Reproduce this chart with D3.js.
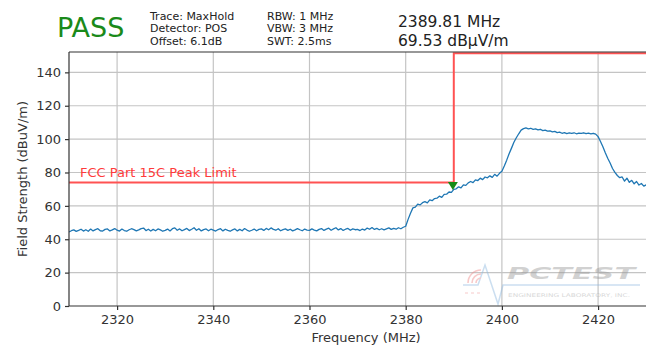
<!DOCTYPE html>
<html>
<head>
<meta charset="utf-8">
<script src="https://cdn.jsdelivr.net/npm/d3@7"></script>
<style>
  html, body { margin: 0; padding: 0; background: #fff; }
  svg { display: block; font-family: "DejaVu Sans", sans-serif; }
</style>
</head>
<body>
<svg id="chart" width="646" height="347"></svg>
<script>
// Sweep settings
const sweepStartMHz = 2310;
const sweepStepMHz = 0.5;

// MaxHold trace, dBuV/m, one value per 0.5 MHz from 2310 MHz
const traceValues = [
  // 2310 - 2319.5
  44.4, 45.1, 45.6, 44.7, 45.3, 46.0, 44.9, 45.7, 44.8, 46.1, 45.0, 45.8, 46.3, 45.1, 44.9, 45.9, 46.2, 45.0, 45.6, 46.4,
  // 2320 - 2329.5
  45.4, 44.9, 46.1, 45.2, 44.8, 45.7, 46.3, 45.8, 45.0, 45.6, 46.4, 46.7, 45.2, 46.0, 44.9, 45.9, 45.1, 46.2, 45.6, 44.8,
  // 2330 - 2339.5
  45.3, 46.1, 45.0, 46.3, 46.8, 45.4, 46.2, 45.1, 45.8, 46.5, 45.2, 46.0, 46.9, 45.4, 46.3, 45.0, 45.8, 46.2, 45.1, 46.0,
  // 2340 - 2349.5
  45.5, 44.9, 45.8, 46.3, 45.0, 46.0, 45.3, 44.8, 45.6, 46.2, 45.0, 45.9, 45.1, 46.4, 45.5, 44.8, 45.4, 46.1, 45.1, 45.9,
  // 2350 - 2359.5
  46.2, 45.3, 46.5, 45.7, 46.8, 45.9, 45.4, 46.3, 45.1, 45.8, 46.2, 45.3, 46.0, 45.0, 45.6, 46.4, 45.7, 45.1, 46.1, 45.5,
  // 2360 - 2369.5
  45.3, 46.2, 45.5, 45.0, 45.9, 46.4, 45.3, 46.1, 46.6, 45.4, 46.2, 46.9, 45.6, 46.4, 45.3, 46.0, 46.5, 45.4, 46.2, 45.7,
  // 2370 - 2379.5
  45.9, 45.2, 46.1, 45.5, 46.7, 46.0, 47.0, 45.9, 46.5, 45.7, 46.3, 45.6, 46.2, 46.8, 45.9, 46.5, 46.0, 46.9, 46.3, 47.2,
  // 2380 - 2389.5
  47.8, 51.9, 55.6, 58.8, 59.2, 61.0, 60.6, 61.9, 62.5, 61.8, 63.6, 63.1, 64.4, 64.6, 65.8, 65.1, 66.9, 67.0, 68.3, 68.1,
  // 2390 - 2399.5
  69.9, 70.2, 71.4, 70.8, 72.6, 72.3, 73.8, 74.6, 73.9, 75.6, 75.2, 76.6, 75.7, 77.3, 76.8, 78.0, 77.1, 78.9, 77.8, 79.5,
  // 2400 - 2409.5
  80.8, 83.9, 87.4, 91.2, 94.6, 98.1, 100.8, 103.2, 105.4, 106.3, 106.7, 106.2, 106.5, 105.8, 106.1, 105.5, 105.9, 105.1, 105.4, 104.8,
  // 2410 - 2419.5
  104.9, 104.3, 104.6, 103.9, 104.2, 103.5, 103.9, 103.3, 103.7, 103.4, 103.8, 103.2, 103.6, 103.4, 103.8, 103.3, 103.6, 103.2, 103.5, 103.0,
  // 2420 - 2429.5
  101.5, 98.6, 95.4, 91.8, 88.5, 85.7, 82.4, 80.1, 78.2, 76.9, 77.3, 74.8, 76.6, 74.1, 75.3, 73.2, 74.6, 72.5, 73.4, 71.8,
  // 2430 - 2431
  72.6, 70.9, 71.5
];

// Limit line (restricted band edge at 2390 MHz)
const limitFreqs = [2310, 2390, 2390, 2434];
const limitLevels = [74, 74, 151.5, 151.5];
const limitLabel = "FCC Part 15C Peak Limit";

// Peak marker
const markerFreq = 2389.81;
const markerLevel = 69.53;

// Axes
const xTicks = [2320, 2340, 2360, 2380, 2400, 2420];
const yTicks = [0, 20, 40, 60, 80, 100, 120, 140];
const xTitle = "Frequency (MHz)";
const yTitle = "Field Strength (dBuV/m)";

// Header
const verdict = "PASS";
const settingsCol1 = ["Trace: MaxHold", "Detector: POS", "Offset: 6.1dB"];
const settingsCol2 = ["RBW: 1 MHz", "VBW: 3 MHz", "SWT: 2.5ms"];
const markerReadout = ["2389.81 MHz", "69.53 dB\u00b5V/m"];

// ---------------------------------------------------------------
const svg = d3.select("#chart");
const plot = { left: 69, top: 52, right: 663.5, bottom: 306 };

const x = d3.scaleLinear().domain([2310, 2433.6]).range([plot.left, plot.right]);
const y = d3.scaleLinear().domain([0, 152.2]).range([plot.bottom, plot.top]);

svg.append("defs").append("clipPath").attr("id", "plotClip")
  .append("rect")
  .attr("x", plot.left).attr("y", plot.top)
  .attr("width", plot.right - plot.left).attr("height", plot.bottom - plot.top);

// Grid
const grid = svg.append("g").attr("stroke", "#c4c4c4").attr("stroke-width", 1.2);
grid.selectAll("line.gx").data(xTicks).join("line")
  .attr("x1", d => x(d)).attr("x2", d => x(d))
  .attr("y1", plot.top).attr("y2", plot.bottom);
grid.selectAll("line.gy").data(yTicks.filter(d => d > 0)).join("line")
  .attr("x1", plot.left).attr("x2", plot.right)
  .attr("y1", d => y(d)).attr("y2", d => y(d));

// Watermark logo
const logo = svg.append("g").attr("opacity", 0.45);
logo.append("path")
  .attr("d", "M463,285 L478,285 L485,265 L498,304 L503,285 L640,285")
  .attr("fill", "none").attr("stroke", "#8db8e0").attr("stroke-width", 1.5);
[5, 9, 13].forEach(r => {
  const arc = d3.arc().innerRadius(r - 0.8).outerRadius(r + 0.8)
    .startAngle(-Math.PI * 0.5).endAngle(0);
  logo.append("path").attr("d", arc()).attr("transform", "translate(481,283)")
    .attr("fill", "#f08a8a");
});
logo.append("line").attr("x1", 465).attr("x2", 481).attr("y1", 293).attr("y2", 293)
  .attr("stroke", "#f08a8a").attr("stroke-width", 1.2).attr("stroke-dasharray", "3,3");
logo.append("text").attr("x", 507).attr("y", 279)
  .attr("font-size", 15).attr("font-weight", "bold").attr("font-style", "italic")
  .attr("fill", "#9a9a9a").attr("textLength", 128).attr("lengthAdjust", "spacingAndGlyphs")
  .text("PCTEST");
logo.append("text").attr("x", 508).attr("y", 297)
  .attr("font-size", 5).attr("fill", "#aaaaaa")
  .attr("textLength", 122).attr("lengthAdjust", "spacingAndGlyphs")
  .text("ENGINEERING LABORATORY, INC.");

// Data layer
const layer = svg.append("g").attr("clip-path", "url(#plotClip)");

const limitData = limitFreqs.map((f, i) => ({ f, v: limitLevels[i] }));
layer.append("path")
  .datum(limitData)
  .attr("fill", "none").attr("stroke", "#ff5252").attr("stroke-width", 2)
  .attr("d", d3.line().x(d => x(d.f)).y(d => y(d.v)));

const traceData = traceValues.map((v, i) => ({ f: sweepStartMHz + i * sweepStepMHz, v }));
layer.append("path")
  .datum(traceData)
  .attr("fill", "none").attr("stroke", "#1f77b4").attr("stroke-width", 1.3)
  .attr("stroke-linejoin", "round")
  .attr("d", d3.line().x(d => x(d.f)).y(d => y(d.v)));

// Marker: downward triangle with its tip on the reading
const mx = x(markerFreq), my = y(markerLevel);
svg.append("path")
  .attr("d", `M${mx - 5},${my - 8} L${mx + 5},${my - 8} L${mx},${my} Z`)
  .attr("fill", "#168a16");

svg.append("text")
  .attr("x", 80).attr("y", 177)
  .attr("font-size", 13).attr("fill", "#ff3b3b")
  .text(limitLabel);

// Spines
const spines = svg.append("g").attr("stroke", "#333").attr("stroke-width", 1.2).attr("fill", "none");
spines.append("line").attr("x1", plot.left).attr("x2", plot.left).attr("y1", plot.top).attr("y2", plot.bottom);
spines.append("line").attr("x1", plot.left).attr("x2", plot.right).attr("y1", plot.bottom).attr("y2", plot.bottom);
spines.append("line").attr("x1", plot.left).attr("x2", plot.right).attr("y1", plot.top).attr("y2", plot.top);

// Axes
const xAxis = d3.axisBottom(x).tickValues(xTicks).tickSize(4).tickPadding(5).tickFormat(d3.format("d"));
const yAxis = d3.axisLeft(y).tickValues(yTicks).tickSize(4).tickPadding(4).tickFormat(d3.format("d"));

const gx = svg.append("g").attr("transform", `translate(0,${plot.bottom})`).call(xAxis);
const gy = svg.append("g").attr("transform", `translate(${plot.left},0)`).call(yAxis);
[gx, gy].forEach(g => {
  g.select(".domain").remove();
  g.selectAll(".tick line").attr("stroke", "#333").attr("stroke-width", 1.2);
  g.selectAll(".tick text").attr("fill", "#333").attr("font-size", 13)
    .attr("font-family", "DejaVu Sans, sans-serif");
});

svg.append("text")
  .attr("x", 366).attr("y", 341.5).attr("text-anchor", "middle")
  .attr("font-size", 13).attr("fill", "#333").text(xTitle);
svg.append("text")
  .attr("transform", "translate(26.5,179) rotate(-90)").attr("text-anchor", "middle")
  .attr("font-size", 13).attr("fill", "#333").text(yTitle);

// Header
svg.append("text").attr("x", 57).attr("y", 37)
  .attr("font-size", 27).attr("fill", "#1a8a1a").text(verdict);

const headerLine = (lines, x0, y0, dy, size) => {
  lines.forEach((t, i) => {
    svg.append("text").attr("x", x0).attr("y", y0 + i * dy)
      .attr("font-size", size).attr("fill", "#222").text(t);
  });
};
headerLine(settingsCol1, 150, 19.5, 12.5, 11);
headerLine(settingsCol2, 267, 19.5, 12.5, 11);
headerLine(markerReadout, 398, 27, 18.5, 15.5);
</script>
</body>
</html>
